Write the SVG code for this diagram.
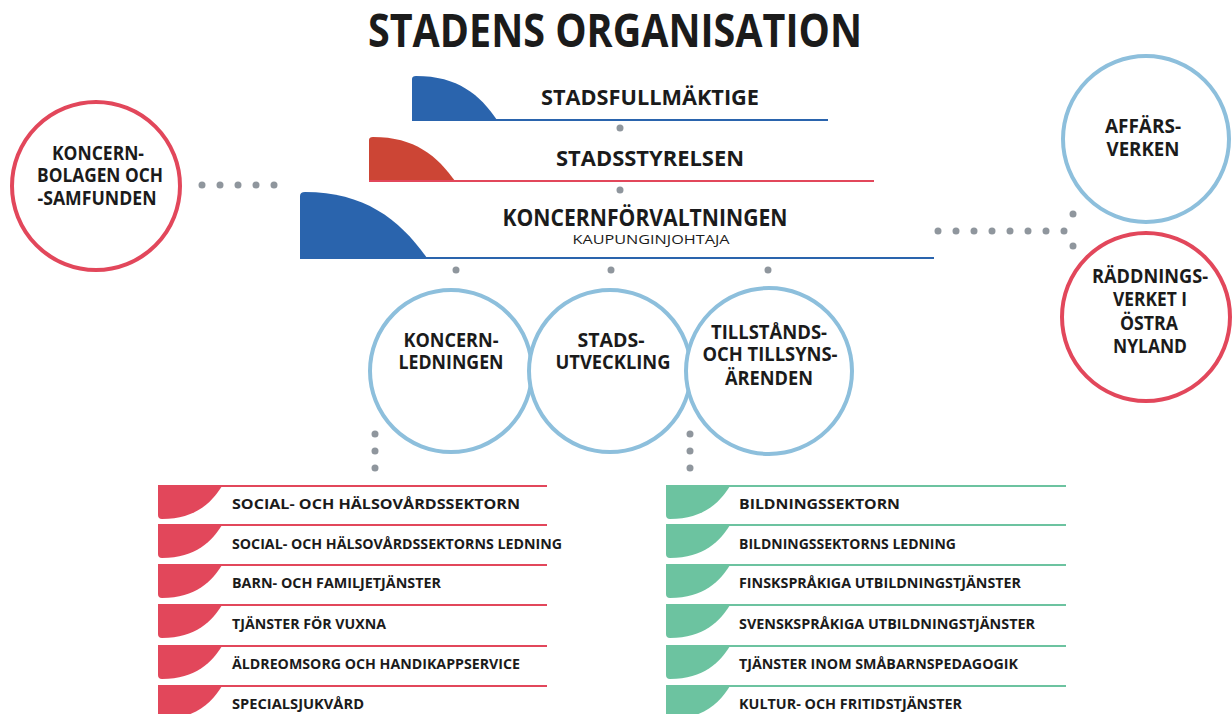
<svg xmlns="http://www.w3.org/2000/svg" width="1232" height="714" viewBox="0 0 1232 714">
<style>
.t{font-family:"Open Sans","Noto Sans","Liberation Sans",sans-serif;font-weight:700;fill:#1b1b1b}
.c{text-anchor:middle}
.ct{font-size:20px}
.lt{font-size:15px}
.dot{fill:#8f969d}
.cb{fill:#fff;stroke:#8dbfdc;stroke-width:4}
.cr{fill:#fff;stroke:#e2475b;stroke-width:4}
.red{fill:#e2475b}
.grn{fill:#6cc3a0}
.lr{stroke:#e2475b;stroke-width:2}
.lg{stroke:#6cc3a0;stroke-width:2}
</style>
<rect width="1232" height="714" fill="#fff"/>
<text class="t c" x="615" y="47" font-size="47" textLength="494" lengthAdjust="spacingAndGlyphs">STADENS ORGANISATION</text>

<g id="connectors">
<circle class="dot" cx="620" cy="128" r="3.5"/>
<circle class="dot" cx="620" cy="190" r="3.5"/>
<circle class="dot" cx="456" cy="270" r="3.5"/>
<circle class="dot" cx="611" cy="270" r="3.5"/>
<circle class="dot" cx="768" cy="270" r="3.5"/>
<circle class="dot" cx="202" cy="185" r="3.5"/>
<circle class="dot" cx="220" cy="185" r="3.5"/>
<circle class="dot" cx="238" cy="185" r="3.5"/>
<circle class="dot" cx="256" cy="185" r="3.5"/>
<circle class="dot" cx="274" cy="185" r="3.5"/>
<circle class="dot" cx="938" cy="231" r="3.5"/>
<circle class="dot" cx="956" cy="231" r="3.5"/>
<circle class="dot" cx="974" cy="231" r="3.5"/>
<circle class="dot" cx="992" cy="231" r="3.5"/>
<circle class="dot" cx="1010" cy="231" r="3.5"/>
<circle class="dot" cx="1028" cy="231" r="3.5"/>
<circle class="dot" cx="1046" cy="231" r="3.5"/>
<circle class="dot" cx="1064" cy="231" r="3.5"/>
<circle class="dot" cx="1073" cy="214" r="3.5"/>
<circle class="dot" cx="1073" cy="246" r="3.5"/>
<circle class="dot" cx="375" cy="434" r="3.5"/>
<circle class="dot" cx="375" cy="451" r="3.5"/>
<circle class="dot" cx="375" cy="468" r="3.5"/>
<circle class="dot" cx="690" cy="434" r="3.5"/>
<circle class="dot" cx="690" cy="451" r="3.5"/>
<circle class="dot" cx="690" cy="468" r="3.5"/>
</g>

<g id="stadsfullmaktige">
<path d="M412,120 V79 Q412,76 416,76 C458,76 480,95 497,120 Z" fill="#2a64ad"/>
<line x1="412" y1="120" x2="828" y2="120" stroke="#2a64ad" stroke-width="2"/>
<text class="t c" x="650" y="105" font-size="22" textLength="218" lengthAdjust="spacingAndGlyphs">STADSFULLMÄKTIGE</text>
</g>
<g id="stadsstyrelsen">
<path d="M369,181 V140 Q369,137 373,137 C415,137 437,156 455,181 Z" fill="#cc4535"/>
<line x1="369" y1="181" x2="874" y2="181" stroke="#e2475b" stroke-width="2"/>
<text class="t c" x="650" y="166" font-size="22" textLength="188" lengthAdjust="spacingAndGlyphs">STADSSTYRELSEN</text>
</g>
<g id="koncernforvaltningen">
<path d="M300,258 V196 Q300,192 305,192 C365,192 400,220 427,258 Z" fill="#2a64ad"/>
<line x1="300" y1="258" x2="934" y2="258" stroke="#2a64ad" stroke-width="2"/>
<text class="t c" x="645" y="226" font-size="23" textLength="285" lengthAdjust="spacingAndGlyphs">KONCERNFÖRVALTNINGEN</text>
<text class="c" x="651" y="244" font-size="13" font-family="'Open Sans','Liberation Sans',sans-serif" fill="#1b1b1b" textLength="157" lengthAdjust="spacingAndGlyphs">KAUPUNGINJOHTAJA</text>
</g>

<g id="koncernledningen">
<circle class="cb" cx="451" cy="371" r="81"/>
<text class="t c ct" x="451" y="347" textLength="95" lengthAdjust="spacingAndGlyphs">KONCERN-</text>
<text class="t c ct" x="451" y="369" textLength="105" lengthAdjust="spacingAndGlyphs">LEDNINGEN</text>
</g>
<g id="stadsutveckling">
<circle class="cb" cx="610" cy="371" r="81"/>
<text class="t c ct" x="611" y="347" textLength="67" lengthAdjust="spacingAndGlyphs">STADS-</text>
<text class="t c ct" x="613" y="369" textLength="115" lengthAdjust="spacingAndGlyphs">UTVECKLING</text>
</g>
<g id="tillstandsarenden">
<circle class="cb" cx="769" cy="371" r="83"/>
<text class="t c ct" x="769" y="339" textLength="116" lengthAdjust="spacingAndGlyphs">TILLSTÅNDS-</text>
<text class="t c ct" x="770" y="361" textLength="135" lengthAdjust="spacingAndGlyphs">OCH TILLSYNS-</text>
<text class="t c ct" x="769" y="385" textLength="88" lengthAdjust="spacingAndGlyphs">ÄRENDEN</text>
</g>

<g id="koncernbolagen">
<circle class="cr" cx="96" cy="186" r="84"/>
<text class="t c ct" x="98" y="160" textLength="92" lengthAdjust="spacingAndGlyphs">KONCERN-</text>
<text class="t c ct" x="100" y="182" textLength="126" lengthAdjust="spacingAndGlyphs">BOLAGEN OCH</text>
<text class="t c ct" x="97" y="205" textLength="119" lengthAdjust="spacingAndGlyphs">-SAMFUNDEN</text>
</g>
<g id="affarsverken">
<circle class="cb" cx="1146" cy="139" r="83"/>
<text class="t c ct" x="1143" y="133" textLength="76" lengthAdjust="spacingAndGlyphs">AFFÄRS-</text>
<text class="t c ct" x="1143" y="156" textLength="73" lengthAdjust="spacingAndGlyphs">VERKEN</text>
</g>
<g id="raddningsverket">
<circle class="cr" cx="1146" cy="317" r="84"/>
<text class="t c ct" x="1150" y="283" textLength="116" lengthAdjust="spacingAndGlyphs">RÄDDNINGS-</text>
<text class="t c ct" x="1150" y="306" textLength="74" lengthAdjust="spacingAndGlyphs">VERKET I</text>
<text class="t c ct" x="1149" y="330" textLength="58" lengthAdjust="spacingAndGlyphs">ÖSTRA</text>
<text class="t c ct" x="1150" y="353" textLength="74" lengthAdjust="spacingAndGlyphs">NYLAND</text>
</g>

<defs>
<path id="rs" d="M0,0 H64 C54,16 38,33 4,33 Q0,33 0,29 Z"/>
</defs>

<g id="social-halsovard">
<g id="shs-1"><line class="lr" x1="158" y1="486" x2="547" y2="486"/><use href="#rs" x="158" y="486" class="red"/><text class="t lt" x="232" y="509" textLength="288" lengthAdjust="spacingAndGlyphs">SOCIAL- OCH HÄLSOVÅRDSSEKTORN</text></g>
<g id="shs-2"><line class="lr" x1="158" y1="525" x2="547" y2="525"/><use href="#rs" x="158" y="525" class="red"/><text class="t lt" x="232" y="549" textLength="330" lengthAdjust="spacingAndGlyphs">SOCIAL- OCH HÄLSOVÅRDSSEKTORNS LEDNING</text></g>
<g id="shs-3"><line class="lr" x1="158" y1="565" x2="547" y2="565"/><use href="#rs" x="158" y="565" class="red"/><text class="t lt" x="232" y="588" textLength="209" lengthAdjust="spacingAndGlyphs">BARN- OCH FAMILJETJÄNSTER</text></g>
<g id="shs-4"><line class="lr" x1="158" y1="605" x2="547" y2="605"/><use href="#rs" x="158" y="605" class="red"/><text class="t lt" x="232" y="629" textLength="154" lengthAdjust="spacingAndGlyphs">TJÄNSTER FÖR VUXNA</text></g>
<g id="shs-5"><line class="lr" x1="158" y1="646" x2="547" y2="646"/><use href="#rs" x="158" y="646" class="red"/><text class="t lt" x="232" y="669" textLength="288" lengthAdjust="spacingAndGlyphs">ÄLDREOMSORG OCH HANDIKAPPSERVICE</text></g>
<g id="shs-6"><line class="lr" x1="158" y1="686" x2="547" y2="686"/><use href="#rs" x="158" y="686" class="red"/><text class="t lt" x="232" y="709" textLength="132" lengthAdjust="spacingAndGlyphs">SPECIALSJUKVÅRD</text></g>
</g>

<g id="bildning">
<g id="bs-1"><line class="lg" x1="666" y1="486" x2="1066" y2="486"/><use href="#rs" x="666" y="486" class="grn"/><text class="t lt" x="739" y="509" textLength="161" lengthAdjust="spacingAndGlyphs">BILDNINGSSEKTORN</text></g>
<g id="bs-2"><line class="lg" x1="666" y1="525" x2="1066" y2="525"/><use href="#rs" x="666" y="525" class="grn"/><text class="t lt" x="739" y="549" textLength="217" lengthAdjust="spacingAndGlyphs">BILDNINGSSEKTORNS LEDNING</text></g>
<g id="bs-3"><line class="lg" x1="666" y1="565" x2="1066" y2="565"/><use href="#rs" x="666" y="565" class="grn"/><text class="t lt" x="739" y="588" textLength="282" lengthAdjust="spacingAndGlyphs">FINSKSPRÅKIGA UTBILDNINGSTJÄNSTER</text></g>
<g id="bs-4"><line class="lg" x1="666" y1="605" x2="1066" y2="605"/><use href="#rs" x="666" y="605" class="grn"/><text class="t lt" x="739" y="629" textLength="296" lengthAdjust="spacingAndGlyphs">SVENSKSPRÅKIGA UTBILDNINGSTJÄNSTER</text></g>
<g id="bs-5"><line class="lg" x1="666" y1="646" x2="1066" y2="646"/><use href="#rs" x="666" y="646" class="grn"/><text class="t lt" x="739" y="669" textLength="279" lengthAdjust="spacingAndGlyphs">TJÄNSTER INOM SMÅBARNSPEDAGOGIK</text></g>
<g id="bs-6"><line class="lg" x1="666" y1="686" x2="1066" y2="686"/><use href="#rs" x="666" y="686" class="grn"/><text class="t lt" x="739" y="709" textLength="223" lengthAdjust="spacingAndGlyphs">KULTUR- OCH FRITIDSTJÄNSTER</text></g>
</g>
</svg>
